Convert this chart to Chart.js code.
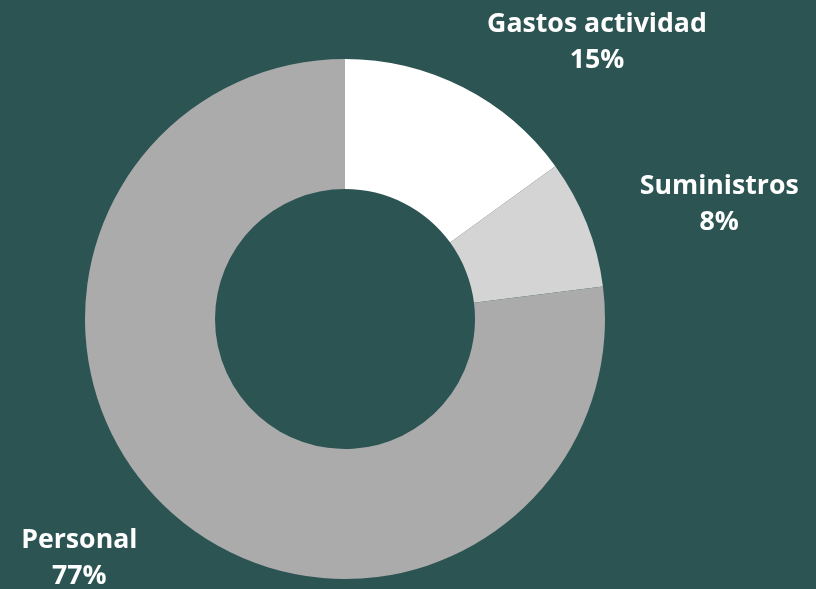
<!DOCTYPE html>
<html>
<head>
<meta charset="utf-8">
<script src="https://cdn.jsdelivr.net/npm/chart.js@4"></script>
<style>
  html, body { margin: 0; padding: 0; background: #2c5452; }
  #wrap { width: 816px; height: 589px; }
</style>
</head>
<body>
<div id="wrap"><canvas id="costChart" width="816" height="589"></canvas></div>
<script>
const categories = ['Gastos actividad', 'Suministros', 'Personal'];
const shares = [15, 8, 77];
const sliceColors = ['#ffffff', '#d4d4d4', '#ababab'];

// where each label sits: angle (deg, clockwise from top) and distance from centre as a multiple of the outer radius
const labelAngles = [42.3, 73, 228];
const labelDist = [1.44, 1.505, 1.375];

const outsideLabels = {
    id: 'outsideLabels',
    afterDraw(chart) {
        const ctx = chart.ctx;
        const arcs = chart.getDatasetMeta(0).data;
        ctx.save();
        ctx.fillStyle = '#ffffff';
        ctx.font = 'bold 26.7px "Open Sans"';
        ctx.textAlign = 'center';
        ctx.textBaseline = 'middle';
        arcs.forEach((arc, i) => {
            const a = labelAngles[i] * Math.PI / 180;
            const r = arc.outerRadius * labelDist[i];
            const x = arc.x + r * Math.sin(a);
            const y = arc.y - r * Math.cos(a);
            ctx.fillText(categories[i], x, y - 18);
            ctx.fillText(shares[i] + '%', x, y + 18);
        });
        ctx.restore();
    }
};

const ctx = document.getElementById('costChart').getContext('2d');
new Chart(ctx, {
    type: 'doughnut',
    data: {
        labels: categories,
        datasets: [{
            data: shares,
            backgroundColor: sliceColors,
            borderWidth: 0
        }]
    },
    options: {
        responsive: false,
        animation: false,
        cutout: '50%',
        layout: { padding: { top: 59, bottom: 10, left: 85, right: 211 } },
        plugins: {
            legend: { display: false },
            tooltip: { enabled: false }
        }
    },
    plugins: [outsideLabels]
});
</script>
</body>
</html>
